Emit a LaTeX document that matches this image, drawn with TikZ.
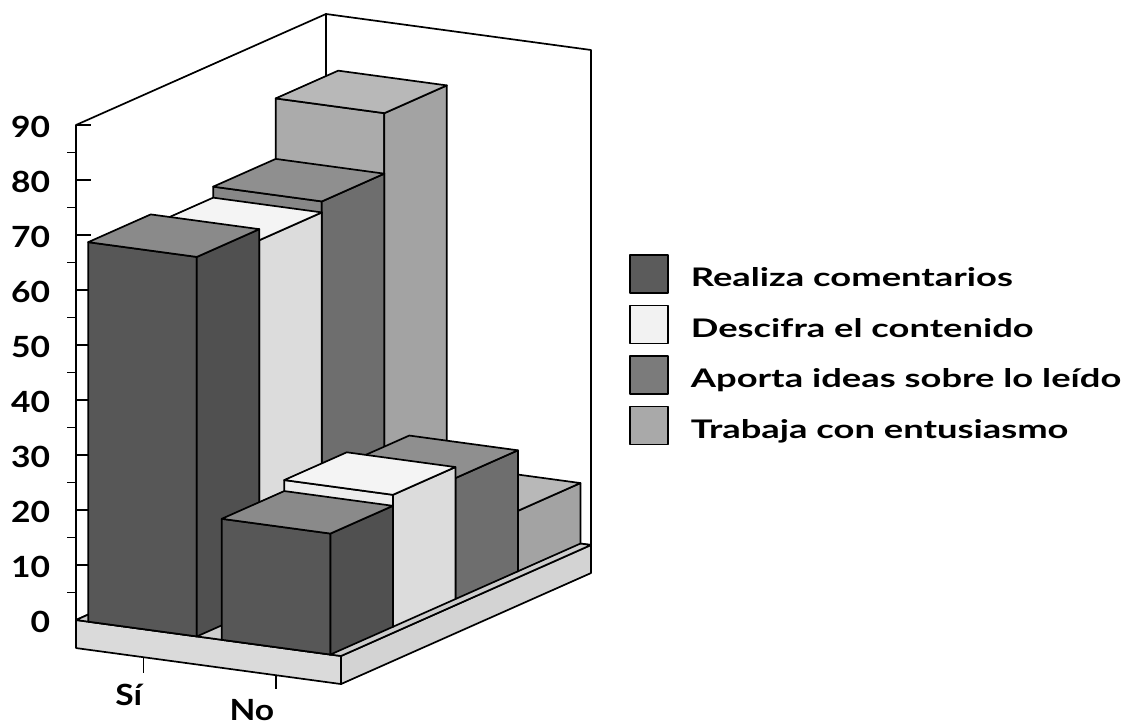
\documentclass[tikz,border=0pt]{standalone}
\usepackage{fontspec}
\setmainfont{Lato}[FakeStretch=1.15]
\newfontfamily\legendfont{Lato}[FakeStretch=1.42]

\definecolor{realizaFront}{HTML}{575757}
\definecolor{realizaSide}{HTML}{505050}
\definecolor{realizaTop}{HTML}{8A8A8A}
\definecolor{realizaKey}{HTML}{5B5B5B}
\definecolor{descifraFront}{HTML}{EDEDED}
\definecolor{descifraSide}{HTML}{DCDCDC}
\definecolor{descifraTop}{HTML}{F4F4F4}
\definecolor{descifraKey}{HTML}{F2F2F2}
\definecolor{aportaFront}{HTML}{878787}
\definecolor{aportaSide}{HTML}{6E6E6E}
\definecolor{aportaTop}{HTML}{8F8F8F}
\definecolor{aportaKey}{HTML}{7B7B7B}
\definecolor{trabajaFront}{HTML}{ABABAB}
\definecolor{trabajaSide}{HTML}{A3A3A3}
\definecolor{trabajaTop}{HTML}{B8B8B8}
\definecolor{trabajaKey}{HTML}{A9A9A9}
\definecolor{floorFront}{HTML}{DADADA}
\definecolor{floorSide}{HTML}{D3D3D3}
\definecolor{floorTop}{HTML}{CDCDCD}

\begin{document}
\begin{tikzpicture}[x=0.5pt,y=-0.5pt,line width=0.85pt,line join=round]
    \newcommand{\barBox}[4]{
        \filldraw[fill=#4Front] (#1,0,#2) -- ({#1+0.41},0,#2) -- ({#1+0.41},#3,#2) -- (#1,#3,#2) -- cycle;
        \filldraw[fill=#4Side] ({#1+0.41},0,#2) -- ({#1+0.41},0,{#2+0.25}) -- ({#1+0.41},#3,{#2+0.25}) -- ({#1+0.41},#3,#2) -- cycle;
        \filldraw[fill=#4Top] (#1,#3,#2) -- ({#1+0.41},#3,#2) -- ({#1+0.41},#3,{#2+0.25}) -- (#1,#3,{#2+0.25}) -- cycle;
    }
    \newcommand{\axisFont}{\bfseries\fontsize{14.6}{16}\selectfont}

    \fill[white] (0,0) rectangle (1134,727);
    \useasboundingbox (0,0) rectangle (1134,727);

  \begin{scope}[shift={(38pt,-310pt)},x={(132.5pt,-18pt)},y={(0pt,2.75pt)},z={(125pt,55.5pt)}]
    \filldraw[fill=white] (0,0,0) -- (0,90,0) -- (0,90,1) -- (0,0,1) -- cycle;
    \filldraw[fill=white] (0,0,1) -- (0,90,1) -- (1,90,1) -- (1,0,1) -- cycle;

    \foreach \v in {10,20,...,90} {
        \draw (0,\v,0) -- ++(7.5pt,0pt);
    }
    \foreach \v in {5,15,...,85} {
        \draw (0,\v,0) -- ++(-4.5pt,0pt);
    }
    \foreach \v in {0,10,...,90} {
        \node[anchor=east,inner sep=0pt,xshift=-12.5pt,yshift=-1pt,font=\axisFont] (val\v) at (0,\v,0) {\v};
    }

    \filldraw[fill=floorFront] (0,0,0) -- (1,0,0) -- (1,-5.1,0) -- (0,-5.1,0) -- cycle;
    \filldraw[fill=floorSide] (1,0,0) -- (1,0,1) -- (1,-5.1,1) -- (1,-5.1,0) -- cycle;
    \filldraw[fill=floorTop] (0,0,0) -- (1,0,0) -- (1,0,1) -- (0,0,1) -- cycle;

    \draw (0.255,-5.1,0) -- ++(0pt,-8pt);
    \draw (0.755,-5.1,0) -- ++(0pt,-7pt);

    \barBox{0.046}{0.75}{80}{trabaja}
    \barBox{0.55}{0.75}{11}{trabaja}
    \barBox{0.046}{0.5}{69}{aporta}
    \barBox{0.55}{0.5}{22}{aporta}
    \barBox{0.046}{0.25}{67}{descifra}
    \barBox{0.55}{0.25}{24}{descifra}
    \barBox{0.046}{0}{69}{realiza}
    \barBox{0.55}{0}{22}{realiza}
  \end{scope}

    \node[anchor=base east,inner sep=0pt,font=\axisFont] (si) at (143,705) {Sí};
    \node[anchor=base east,inner sep=0pt,font=\axisFont] (no) at (275,720) {No};

    \foreach \k/\ser/\lbl in {0/realiza/Realiza comentarios,1/descifra/Descifra el contenido,2/aporta/Aporta ideas sobre lo leído,3/trabaja/Trabaja con entusiasmo} {
        \node[draw,fill=\ser Key,minimum size=19pt,inner sep=0pt] (key\k) at (649,{274+50.5*\k}) {};
        \node[anchor=base west,inner sep=0pt,font=\legendfont\bfseries\fontsize{12.8}{14}\selectfont] (lbl\k) at (690,{286.7+50.5*\k}) {\lbl};
    }

\end{tikzpicture}
\end{document}
